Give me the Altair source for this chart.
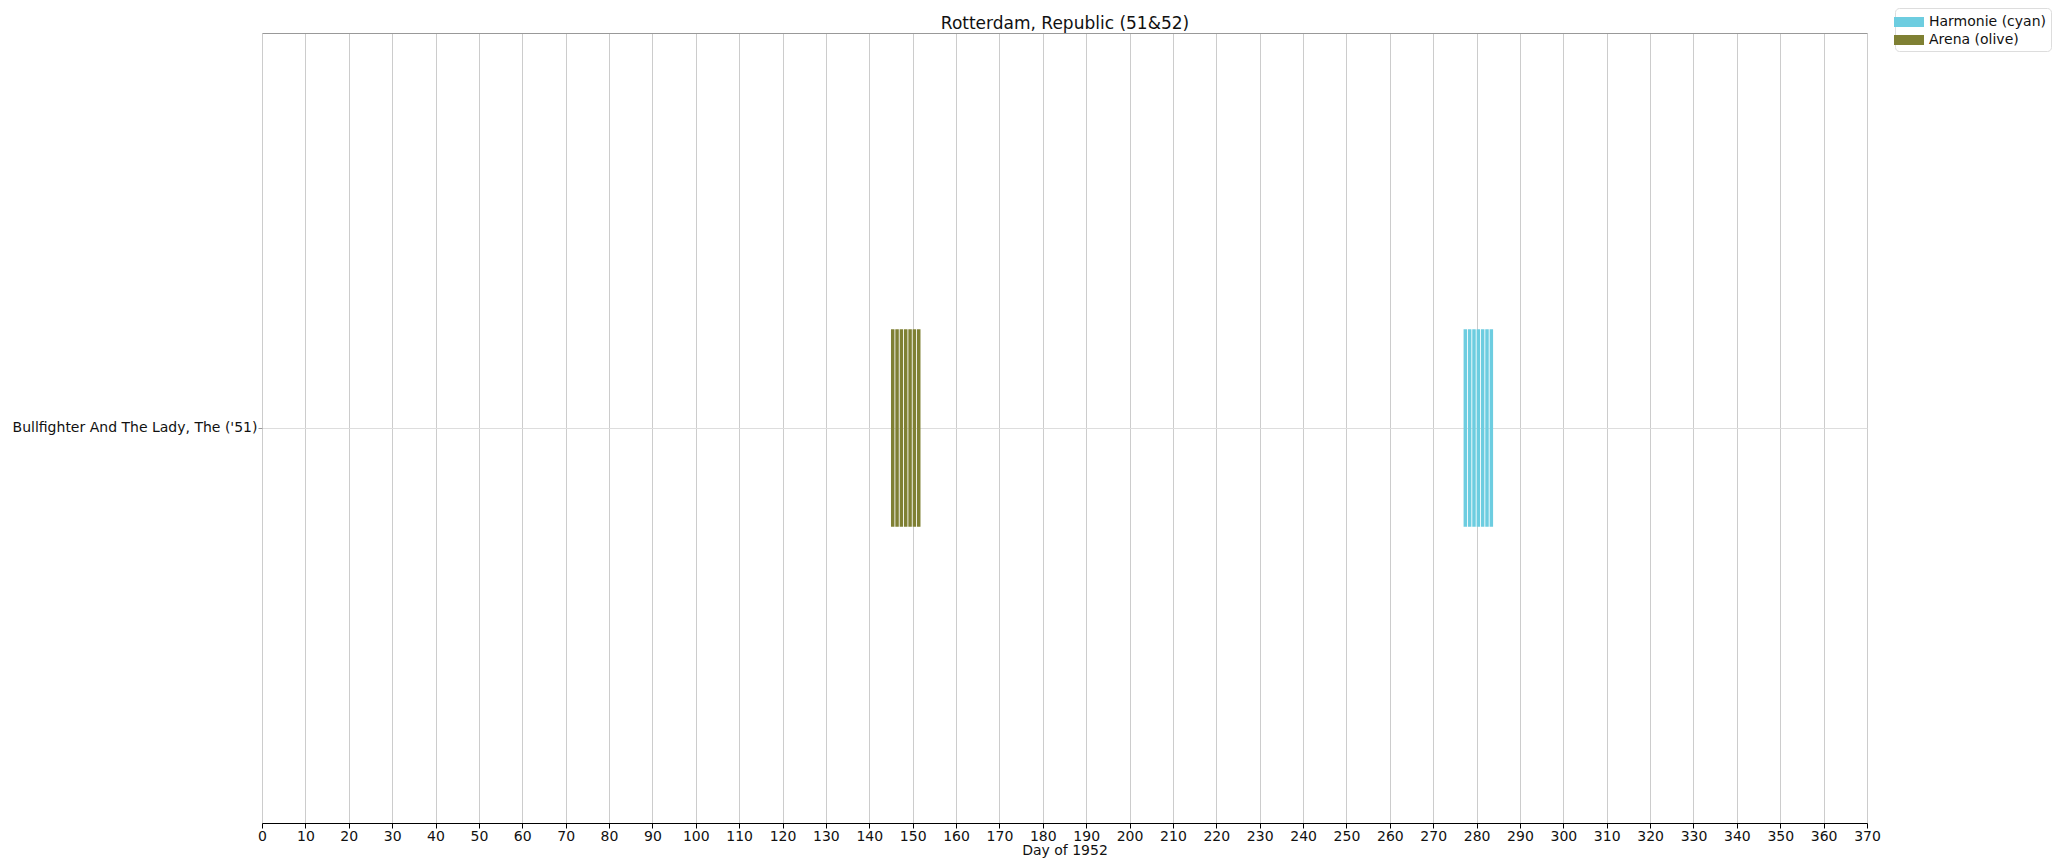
import altair as alt
import pandas as pd

films = ["Bullfighter And The Lady, The ('51)"]
theatres = ["Harmonie (cyan)", "Arena (olive)"]
colors = ["#6dcde0", "#7f8033"]
arena_days = [145, 146, 147, 148, 149, 150, 151]
harmonie_days = [277, 278, 279, 280, 281, 282, 283]
x_ticks = list(range(0, 371, 10))

rows = []
for d in harmonie_days:
    rows.append({"film": films[0], "theatre": theatres[0], "start": d, "end": d + 0.8})
for d in arena_days:
    rows.append({"film": films[0], "theatre": theatres[1], "start": d, "end": d + 0.8})
df = pd.DataFrame(rows)

FONT = "DejaVu Sans"
W, H = 1605, 790
PAD_L, PAD_T, PAD_B = 254, 25, 35
PAD_R = 2051 - PAD_L - W

xscale = alt.Scale(domain=[0, 370], nice=False, zero=False)

bars = alt.Chart(df).mark_bar(height={"band": 0.25}).encode(
    x=alt.X("start:Q", scale=xscale,
            axis=alt.Axis(values=x_ticks, title="Day of 1952", grid=True,
                          gridColor="#cccccc", gridWidth=1, domainColor="#000000",
                          tickColor="#000000", tickSize=5, labelFontSize=14,
                          labelColor="#111111", titleFontSize=14, titleFontWeight="normal",
                          titleColor="#111111", titlePadding=0, labelPadding=1,
                          labelFont=FONT, titleFont=FONT, labelFlush=False)),
    x2="end:Q",
    y=alt.Y("film:N", scale=alt.Scale(paddingInner=0, paddingOuter=0),
            axis=alt.Axis(title=None, domain=False, grid=True, gridColor="#dddddd",
                          bandPosition=0.5, tickColor="#999999", tickSize=4,
                          labelFontSize=14, labelColor="#111111", labelFont=FONT,
                          labelLimit=400, labelPadding=1)),
    color=alt.Color("theatre:N", scale=alt.Scale(domain=theatres, range=colors),
                    legend=alt.Legend(title=None, orient="none", legendX=1895 - 8 - PAD_L,
                                      legendY=-PAD_T,
                                      symbolType="M-1.5,-0.5H1.5V0.5H-1.5Z", symbolSize=400,
                                      symbolStrokeWidth=0, labelFontSize=14, labelFont=FONT,
                                      labelColor="#111111", strokeColor="#dddddd",
                                      cornerRadius=4, padding=4, fillColor="#ffffff",
                                      rowPadding=1, labelOffset=10)),
)

top = alt.Chart(df).mark_point(opacity=0).encode(
    x=alt.X("start:Q", scale=xscale,
            axis=alt.Axis(orient="top", labels=False, ticks=False, grid=False,
                          domainColor="#999999", title="Rotterdam, Republic (51&52)",
                          titleFontSize=17, titleFont=FONT, titleFontWeight="normal",
                          titleColor="#111111", titlePadding=1)),
)

chart = alt.layer(bars, top).resolve_axis(x="independent").properties(
    width=W, height=H,
    autosize=alt.AutoSizeParams(type="none"),
    padding={"left": PAD_L, "top": PAD_T, "right": PAD_R, "bottom": PAD_B},
).configure_view(stroke=None)

chart.save("out.html", embed_options={"renderer": "svg", "actions": False})
